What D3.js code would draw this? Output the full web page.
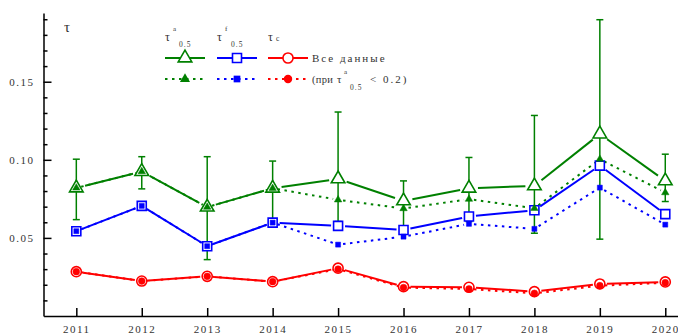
<!DOCTYPE html>
<html>
<head>
<meta charset="utf-8">
<script src="https://cdn.jsdelivr.net/npm/d3@7"></script>
<style>
  body { margin: 0; background: #fff; }
  svg { display: block; }
  text { font-family: "Liberation Serif", "DejaVu Serif", serif; fill: #333; }
</style>
</head>
<body>
<svg width="678" height="333"></svg>
<script>
// data
const years = [2011, 2012, 2013, 2014, 2015, 2016, 2017, 2018, 2019, 2020];
const tauA    = [0.0820, 0.0925, 0.0697, 0.0818, 0.0878, 0.0737, 0.0818, 0.0833, 0.1165, 0.0865];
const tauAHi  = [0.1004, 0.1020, 0.1020, 0.0992, 0.1306, 0.0865, 0.1015, 0.1284, 0.1897, 0.1036];
const tauALo  = [0.0617, 0.0814, 0.0361, 0.0600, 0.0605, 0.0555, 0.0605, 0.0530, 0.0492, 0.0733];
const tauASel = [0.0820, 0.0925, 0.0697, 0.0818, 0.0744, 0.0688, 0.0748, 0.0690, 0.1004, 0.0790];
const tauF    = [0.0543, 0.0705, 0.0447, 0.0598, 0.0577, 0.0551, 0.0637, 0.0677, 0.0963, 0.0652];
const tauFSel = [0.0543, 0.0705, 0.0447, 0.0598, 0.0457, 0.0508, 0.0590, 0.0558, 0.0822, 0.0585];
const tauC    = [0.0284, 0.0224, 0.0254, 0.0220, 0.0306, 0.0188, 0.0184, 0.0156, 0.0205, 0.0218];
const tauCSel = [0.0284, 0.0224, 0.0254, 0.0220, 0.0300, 0.0182, 0.0173, 0.0145, 0.0194, 0.0213];
const yMajor = [0.05, 0.10, 0.15];

const green = '#008000', blue = '#0000ff', red = '#ff0000';

const svg = d3.select('svg');

const x = d3.scaleLinear().domain([2010.5, 2020.5]).range([43.6, 698]);
const y = d3.scaleLinear().domain([0, 0.194]).range([316, 13]);

// axes
const yMinor = d3.range(1, 20).map(i => i / 100).filter(v => !yMajor.some(m => Math.abs(m - v) < 1e-9));
svg.append('g')
  .attr('transform', 'translate(43.5,0)')
  .call(d3.axisLeft(y).tickValues(yMinor).tickSizeInner(-4).tickSizeOuter(0).tickFormat(''))
  .call(g => g.selectAll('line, path').attr('stroke', '#000').attr('stroke-width', 1.5));
svg.append('g')
  .attr('transform', 'translate(43.5,0)')
  .call(d3.axisLeft(y).tickValues(yMajor).tickSizeInner(-8).tickSizeOuter(0).tickPadding(9).tickFormat(d3.format('.2f')))
  .call(g => g.select('.domain').remove())
  .call(g => g.selectAll('line').attr('stroke', '#000').attr('stroke-width', 1.5))
  .call(g => g.selectAll('text').attr('font-size', 11).attr('letter-spacing', '1.5px')
    .style('font-family', '"Liberation Serif", serif').attr('fill', '#333'));

svg.append('g')
  .attr('transform', 'translate(0,316)')
  .call(d3.axisBottom(x).tickValues(years).tickSizeInner(-8).tickSizeOuter(0).tickPadding(9).tickFormat(d3.format('d')))
  .call(g => g.selectAll('line, path').attr('stroke', '#000').attr('stroke-width', 1.5))
  .call(g => g.selectAll('text').attr('font-size', 11).attr('letter-spacing', '1.5px')
    .style('font-family', '"Liberation Serif", serif').attr('fill', '#333'));

svg.append('text').attr('x', 64).attr('y', 32).attr('font-size', 15).text('τ');

// lines with small gaps near the markers
function gappedLine(vals, color, dash, gap) {
  const pts = years.map((yr, i) => [x(yr), y(vals[i])]);
  const segs = [];
  for (let i = 0; i < pts.length - 1; i++) {
    const [x0, y0] = pts[i], [x1, y1] = pts[i + 1];
    const len = Math.hypot(x1 - x0, y1 - y0);
    if (len < 2 * gap + 1) continue;
    const ux = (x1 - x0) / len, uy = (y1 - y0) / len;
    segs.push([x0 + ux * gap, y0 + uy * gap, x1 - ux * gap, y1 - uy * gap]);
  }
  svg.append('g').selectAll('line').data(segs).join('line')
    .attr('x1', d => d[0]).attr('y1', d => d[1]).attr('x2', d => d[2]).attr('y2', d => d[3])
    .attr('stroke', color).attr('stroke-width', 2)
    .attr('stroke-dasharray', dash ? '2.5,4.5' : null);
}

function markers(vals, color, type, size, open) {
  svg.append('g').selectAll('path').data(vals).join('path')
    .attr('transform', (d, i) => `translate(${x(years[i])},${y(d)})`)
    .attr('d', d3.symbol().type(type).size(size))
    .attr('fill', open ? '#fff' : color)
    .attr('stroke', color).attr('stroke-width', open ? 1.6 : 0.5);
}

// error bars on tau_a
const eb = svg.append('g').attr('stroke', green).attr('stroke-width', 1.5);
years.forEach((yr, i) => {
  const cx = x(yr);
  eb.append('line').attr('x1', cx).attr('x2', cx).attr('y1', y(tauAHi[i])).attr('y2', y(tauALo[i]));
  eb.append('line').attr('x1', cx - 3.5).attr('x2', cx + 3.5).attr('y1', y(tauAHi[i])).attr('y2', y(tauAHi[i]));
  eb.append('line').attr('x1', cx - 3.5).attr('x2', cx + 3.5).attr('y1', y(tauALo[i])).attr('y2', y(tauALo[i]));
});

gappedLine(tauC, red, false, 7);
gappedLine(tauCSel, red, true, 5);
gappedLine(tauF, blue, false, 7);
gappedLine(tauFSel, blue, true, 5);
gappedLine(tauA, green, false, 9);
gappedLine(tauASel, green, true, 5);

markers(tauC, red, d3.symbolCircle, 80, true);
markers(tauF, blue, d3.symbolSquare, 81, true);
markers(tauA, green, d3.symbolTriangle, 80, true);
markers(tauCSel, red, d3.symbolCircle, 36, false);
markers(tauFSel, blue, d3.symbolSquare, 25, false);
markers(tauASel, green, d3.symbolTriangle, 24, false);

// legend
const leg = svg.append('g');
const legItems = [
  {x0: 165, color: green, type: d3.symbolTriangle, sup: 'a', sub: '0.5', openSize: 80, fillSize: 24},
  {x0: 217, color: blue, type: d3.symbolSquare, sup: 'f', sub: '0.5', openSize: 81, fillSize: 25},
  {x0: 268, color: red, type: d3.symbolCircle, sup: null, sub: 'c', openSize: 80, fillSize: 36}
];
legItems.forEach(it => {
  leg.append('text').attr('x', it.x0).attr('y', 41).attr('font-size', 12).text('τ');
  if (it.sup) {
    leg.append('text').attr('x', it.x0 + 8).attr('y', 31).attr('font-size', 7).text(it.sup);
    leg.append('text').attr('x', it.x0 + 14).attr('y', 47).attr('font-size', 7.5).attr('letter-spacing', '1px').text(it.sub);
  } else {
    leg.append('text').attr('x', it.x0 + 8).attr('y', 41).attr('font-size', 7.5).text(it.sub);
  }
  leg.append('line').attr('x1', it.x0).attr('x2', it.x0 + 40).attr('y1', 58).attr('y2', 58)
    .attr('stroke', it.color).attr('stroke-width', 2);
  leg.append('path').attr('transform', `translate(${it.x0 + 20},58)`)
    .attr('d', d3.symbol().type(it.type).size(it.openSize))
    .attr('fill', '#fff').attr('stroke', it.color).attr('stroke-width', 1.6);
  leg.append('line').attr('x1', it.x0).attr('x2', it.x0 + 40).attr('y1', 79).attr('y2', 79)
    .attr('stroke', it.color).attr('stroke-width', 2).attr('stroke-dasharray', '2.5,4.5');
  leg.append('path').attr('transform', `translate(${it.x0 + 20},79)`)
    .attr('d', d3.symbol().type(it.type).size(it.fillSize + 20))
    .attr('fill', it.color);
});
leg.append('text').attr('x', 312).attr('y', 62).attr('font-size', 11).attr('letter-spacing', '2px').text('Все данные');
leg.append('text').attr('x', 312).attr('y', 83).attr('font-size', 10.5).attr('letter-spacing', '0.3px').text('(при');
leg.append('text').attr('x', 337).attr('y', 83).attr('font-size', 11).text('τ');
leg.append('text').attr('x', 344).attr('y', 74).attr('font-size', 7).text('a');
leg.append('text').attr('x', 350).attr('y', 90).attr('font-size', 7.5).attr('letter-spacing', '1px').text('0.5');
leg.append('text').attr('x', 370).attr('y', 83).attr('font-size', 11).attr('letter-spacing', '2px').text('< 0.2)');
</script>
</body>
</html>
